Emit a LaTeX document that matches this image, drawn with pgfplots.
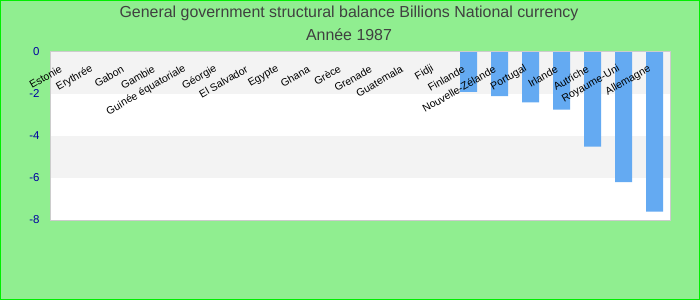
\documentclass[border=0pt]{standalone}
\usepackage{pgfplots}
\pgfplotsset{compat=1.18}
\usepackage{fontspec}
\setmainfont{Liberation Sans}
\definecolor{bg}{HTML}{90EE90}
\definecolor{bord}{HTML}{00EE00}
\definecolor{barc}{RGB}{100,170,242}
\definecolor{band}{HTML}{F3F3F3}
\definecolor{ytc}{RGB}{0,0,160}
\definecolor{titlec}{HTML}{404040}
\begin{document}
\begin{tikzpicture}[x=1bp,y=1bp]
\fill[bg] (0,0) rectangle (700,300);
\draw[bord, line width=1bp] (0.5,0.5) rectangle (699.5,299.5);
\node[font=\fontsize{16}{19}\selectfont, text=titlec] at (349,287) {General government structural balance Billions National currency};
\node[font=\fontsize{16}{19}\selectfont, text=titlec] at (349,265) {Année 1987};
\begin{axis}[
  at={(50bp,80bp)}, anchor=south west,
  scale only axis, width=620bp, height=168bp,
  xmin=-0.5, xmax=19.5, ymin=-8, ymax=0,
  ytick={-8,-6,-4,-2,0},
  xtick={0,...,19},
  xticklabels={Estonie,Erythrée,Gabon,Gambie,Guinée équatoriale,Géorgie,El Salvador,Egypte,Ghana,Grèce,Grenade,Guatemala,Fidji,Finlande,Nouvelle-Zélande,Portugal,Irlande,Autriche,Royaume-Uni,Allemagne},
  xticklabel pos=upper,
  major tick length=0pt,
  axis on top,
  axis background/.style={fill=white},
  axis line style={draw=black!20, line width=1bp},
  xticklabel style={font=\fontsize{10.6}{13}\selectfont, text=black, yshift=-16bp, xshift=-4.5bp, rotate=30, anchor=east, inner sep=0pt},
  yticklabel style={font=\fontsize{11.5}{13}\selectfont, text=ytc, xshift=-7bp},
  /pgf/number format/assume math mode=true,
  clip=false,
]
\fill[band] (axis cs:-0.5,0) rectangle (axis cs:19.5,-2);
\fill[band] (axis cs:-0.5,-4) rectangle (axis cs:19.5,-6);
\addplot[ybar, bar width=17bp, fill=barc, draw=none] coordinates {(13,-1.9) (14,-2.1) (15,-2.4) (16,-2.75) (17,-4.5) (18,-6.2) (19,-7.6)};
\end{axis}
\end{tikzpicture}
\end{document}
